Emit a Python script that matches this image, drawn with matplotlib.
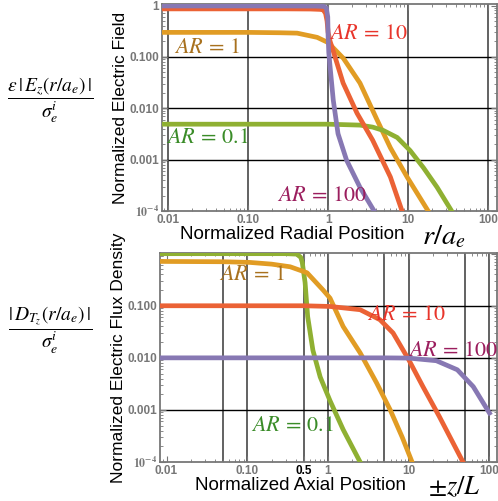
import numpy as np
import matplotlib
matplotlib.use('Agg')
import matplotlib.pyplot as plt
from matplotlib.ticker import FixedLocator, NullFormatter, LogLocator

plt.rcParams['mathtext.fontset'] = 'stix'
plt.rcParams['font.family'] = ['Liberation Sans', 'DejaVu Sans']

# mathematica default palette
c_or, c_gr, c_rd, c_pu = '#E19C24', '#8FB032', '#EB6235', '#8778B3'

# top panel: normalized electric field vs r/a_e
r_ar100 = [0.0084, 0.3, 0.7, 0.88, 0.95, 0.99, 1.0, 1.02, 1.06, 1.16, 1.33, 1.7, 2.5, 3.76]
e_ar100 = [0.98, 0.98, 0.975, 0.96, 0.9, 0.6, 0.25, 0.12, 0.063, 0.0144, 0.0032, 0.00098, 0.00029, 0.0001]

r_ar10 = [0.0084, 0.3, 0.6, 0.8, 0.87, 0.93, 0.97, 1.0, 1.06, 1.15, 1.54, 2.3, 3.6, 6.0, 8.4]
e_ar10 = [0.86, 0.86, 0.855, 0.84, 0.82, 0.7, 0.5, 0.3, 0.2, 0.135, 0.031, 0.008, 0.0024, 0.00046, 0.0001]

r_ar1 = [0.0084, 0.1, 0.25, 0.41, 0.73, 1.0, 1.55, 2.5, 4.1, 6.0, 9.7, 17.8]
e_ar1 = [0.30, 0.30, 0.295, 0.29, 0.24, 0.19, 0.094, 0.031, 0.0059, 0.0017, 0.00046, 0.0001]

r_ar01 = [0.0084, 1.0, 2.5, 3.6, 4.9, 7.3, 10.6, 15.5, 23.0, 35.0]
e_ar01 = [0.0049, 0.0049, 0.0047, 0.0043, 0.0037, 0.0027, 0.0015, 0.0007, 0.00029, 0.0001]

# bottom panel: normalized flux density vs z/L
z_ar01 = [0.0083, 0.3, 0.41, 0.46, 0.48, 0.52, 0.56, 0.65, 0.8, 1.06, 1.54, 2.5]
d_ar01 = [1.0, 1.0, 0.98, 0.85, 0.68, 0.28, 0.062, 0.014, 0.0043, 0.0015, 0.00042, 0.0001]

z_ar1 = [0.0083, 0.05, 0.107, 0.2, 0.34, 0.55, 0.87, 1.06, 1.54, 2.5, 4.0, 5.9, 8.3, 11.0]
d_ar1 = [0.71, 0.70, 0.68, 0.63, 0.56, 0.43, 0.20, 0.14, 0.04, 0.0125, 0.0033, 0.001, 0.0003, 0.0001]

z_ar10 = [0.0083, 0.5, 1.06, 2.5, 4.4, 6.4, 10.0, 15.0, 24.0, 47.0]
d_ar10 = [0.1, 0.1, 0.097, 0.084, 0.054, 0.030, 0.0092, 0.0028, 0.00074, 0.0001]

z_ar100 = [0.0083, 5.0, 10.0, 22.0, 40.0, 63.0, 100.0]
d_ar100 = [0.01, 0.01, 0.0099, 0.0088, 0.0059, 0.0028, 0.00087]

ytick_vals = [1e-4, 1e-3, 1e-2, 1e-1, 1]
ytick_top = ['$\\mathbf{10^{-4}}$', '0.001', '0.010', '0.100', '1']
ytick_bot = ['$\\mathbf{10^{-4}}$', '0.001', '0.010', '0.100', '']
xtick_vals = [0.01, 0.1, 1, 10, 100]
xtick_lbl = ['0.01', '0.10', '1', '10', '100']

fig = plt.figure(figsize=(4.98, 5.01), dpi=100)
ax1 = fig.add_axes([0.3253, 0.5788, 0.6727, 0.4132])
ax2 = fig.add_axes([0.3213, 0.0778, 0.6767, 0.4172])

def style(ax, xlim, ylim, vgrid, ylabels):
    ax.set_xscale('log')
    ax.set_yscale('log')
    ax.set_xlim(*xlim)
    ax.set_ylim(*ylim)
    for v in vgrid:
        ax.axvline(v, color='#555555', lw=1.3, zorder=1)
    for h in [1e-3, 1e-2, 1e-1]:
        ax.axhline(h, color='black', lw=1.0, zorder=1)
    for s in ax.spines.values():
        s.set_color('#777777')
        s.set_linewidth(1.3)
    ax.yaxis.set_major_locator(FixedLocator(ytick_vals))
    ax.set_yticklabels(ylabels)
    ax.xaxis.set_minor_locator(LogLocator(subs=np.arange(2, 10)))
    ax.yaxis.set_minor_locator(LogLocator(subs=np.arange(2, 10)))
    ax.xaxis.set_minor_formatter(NullFormatter())
    ax.yaxis.set_minor_formatter(NullFormatter())
    ax.tick_params(which='both', direction='in', top=True, right=True,
                   color='#777777', labelcolor='#777777', labelsize=8.5, pad=2)
    ax.tick_params(which='major', length=4)
    ax.tick_params(which='minor', length=2)
    for t in ax.get_xticklabels() + ax.get_yticklabels():
        t.set_fontweight('bold')

# top panel
style(ax1, (0.0084, 129), (1e-4, 1.07), [0.01, 0.1, 1, 10, 100], ytick_top)
ax1.set_xticks(xtick_vals)
ax1.set_xticklabels(xtick_lbl, fontweight='bold')
ax1.plot(r_ar1, e_ar1, color=c_or, lw=3.4, zorder=3)
ax1.plot(r_ar01, e_ar01, color=c_gr, lw=3.4, zorder=3)
ax1.plot(r_ar10, e_ar10, color=c_rd, lw=3.4, zorder=4)
ax1.plot(r_ar100, e_ar100, color=c_pu, lw=3.4, zorder=5)

lab = dict(fontsize=16, ha='center', va='center', zorder=6)
ax1.text(0.031, 0.155, '$AR\\,=\\,1$', color='#A8711E', **lab)
ax1.text(3.16, 0.29, '$AR\\,=\\,10$', color='#E8352B', **lab)
ax1.text(0.031, 0.0027, '$AR\\,=\\,0.1$', color='#3A8C28', **lab)
ax1.text(0.84, 0.0002, '$AR\\,=\\,100$', color='#9B1E5E', **lab)

ax1.set_ylabel('Normalized Electric Field', fontsize=12.5, labelpad=1)
ax1.set_xlabel('Normalized Radial Position', fontsize=13.5, labelpad=0)
ax1.xaxis.set_label_coords(0.388, -0.07)

# bottom panel
style(ax2, (0.0083, 124), (1e-4, 1.03), [0.05, 0.1, 0.5, 1, 5, 10, 50, 100], ytick_bot)
ax2.set_xticks([0.01, 0.1, 0.5, 1, 10, 100])
ax2.set_xticklabels(['0.01', '0.10', '0.5', '1', '10', '100'], fontweight='bold')
ax2.get_xticklabels()[2].set_color('black')
ax2.plot(z_ar01, d_ar01, color=c_gr, lw=3.4, zorder=3)
ax2.plot(z_ar1, d_ar1, color=c_or, lw=3.4, zorder=3)
ax2.plot(z_ar10, d_ar10, color=c_rd, lw=3.4, zorder=4)
ax2.plot(z_ar100, d_ar100, color=c_pu, lw=3.4, zorder=5)

ax2.text(0.114, 0.40, '$AR\\,=\\,1$', color='#A8711E', **lab)
ax2.text(9.5, 0.067, '$AR\\,=\\,10$', color='#E8352B', **lab)
ax2.text(35.3, 0.014, '$AR\\,=\\,100$', color='#9B1E5E', **lab)
ax2.text(0.36, 0.00051, '$AR\\,=\\,0.1$', color='#3A8C28', **lab)

ax2.set_ylabel('Normalized Electric Flux Density', fontsize=12.5, labelpad=1)
ax2.set_xlabel('Normalized Axial Position', fontsize=13.5, labelpad=0)
ax2.xaxis.set_label_coords(0.418, -0.07)

# physical quantity labels
fig.text(0.892, 0.527, '$r/a_e$', fontsize=20.5, ha='center', va='center')
fig.text(0.912, 0.028, '$\\pm z/L$', fontsize=19, ha='center', va='center')
fig.text(0.1, 0.8, '$\\dfrac{\\epsilon\\,|\\,E_z(r/a_e)\\,|}{\\sigma_e^i}$',
         fontsize=14, ha='center', va='center')
fig.text(0.1, 0.341, '$\\dfrac{|\\,D_{T_z}(r/a_e)\\,|}{\\sigma_e^i}$',
         fontsize=14, ha='center', va='center')

fig.savefig('out.png', dpi=100)
